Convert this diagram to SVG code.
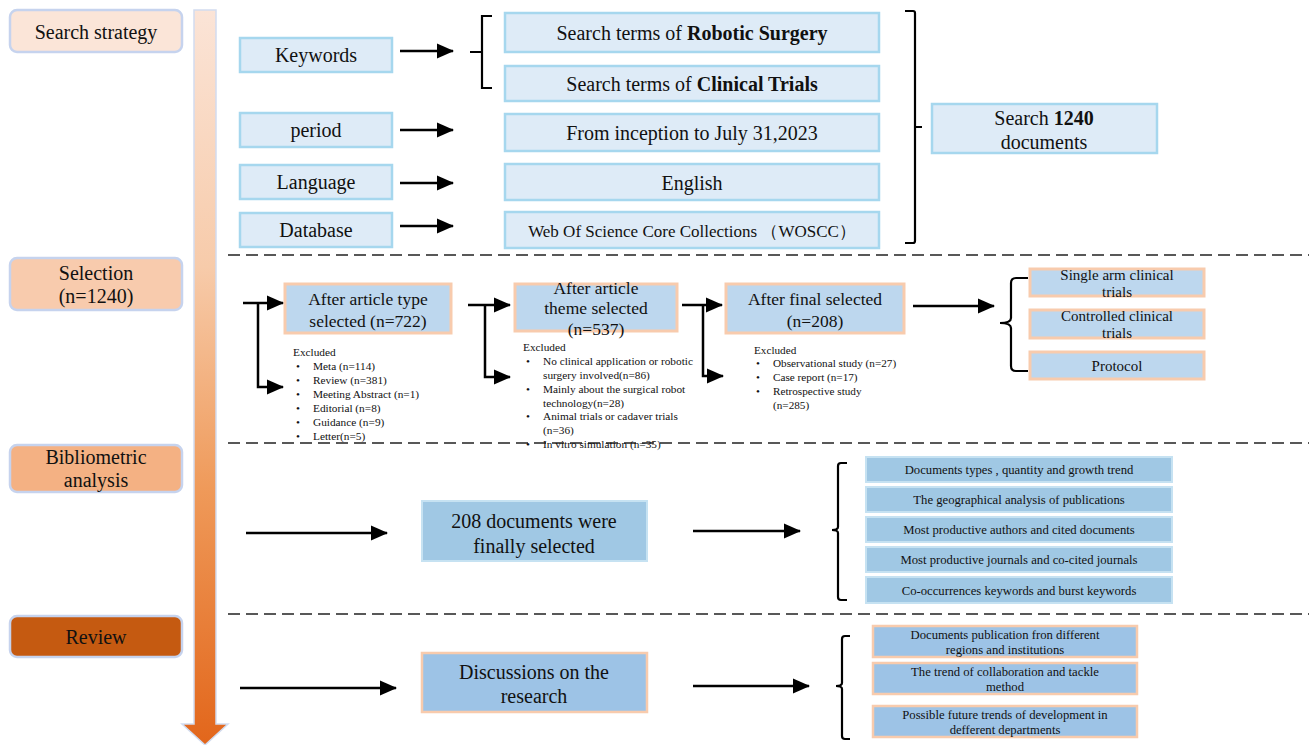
<svg xmlns="http://www.w3.org/2000/svg" width="1309" height="745" viewBox="0 0 1309 745" font-family="'Liberation Serif','Times New Roman',serif">
<defs>
<linearGradient id="shaft" x1="0" y1="0" x2="0" y2="1">
<stop offset="0" stop-color="#fbe4d7"/>
<stop offset="0.35" stop-color="#f7cbaa"/>
<stop offset="0.65" stop-color="#ef9a5a"/>
<stop offset="1" stop-color="#e2661b"/>
</linearGradient>
<marker id="ah" markerUnits="userSpaceOnUse" markerWidth="18" markerHeight="18" refX="16" refY="9" orient="auto">
<path d="M0,1.5 L17,9 L0,16.5 Z" fill="#000"/>
</marker>
<style>
text{font-family:"Liberation Serif","Times New Roman",serif;fill:#111;}
.stage{stroke:#c6d3ee;stroke-width:2.5;}
.b1{fill:#deebf7;stroke:#a6d7ee;stroke-width:2.5;}
.b2{fill:#bdd7ee;stroke:#f8cbad;stroke-width:3;}
.b3{fill:#a0c8e4;stroke:#c6e2f2;stroke-width:2;}
.b4{fill:#9dc3e6;stroke:#f8cbad;stroke-width:2.5;}
.ln{stroke:#000;stroke-width:2.5;fill:none;}
.ar{stroke:#000;stroke-width:2.5;fill:none;marker-end:url(#ah);}
.br{stroke:#000;stroke-width:2.2;fill:none;}
.dash{stroke:#222;stroke-width:1.6;stroke-dasharray:12,6;fill:none;}
.t20{font-size:20px;text-anchor:middle;}
.t17{font-size:17.5px;text-anchor:middle;}
.t15{font-size:15px;text-anchor:middle;}
.t13{font-size:12.7px;text-anchor:middle;}
.ex{font-size:11.3px;}
.ex3{font-size:11.2px;}
</style>
</defs>

<g id="timeline">
<path d="M194,10 L216,10 L216,724 L228,724 L205,745 L182,724 L194,724 Z" fill="url(#shaft)" stroke="#d2dcef" stroke-width="1.5"/>
</g>

<g id="dividers">
<line class="dash" x1="228" y1="255" x2="1309" y2="255"/>
<line class="dash" x1="228" y1="443" x2="1309" y2="443"/>
<line class="dash" x1="228" y1="614" x2="1309" y2="614"/>
</g>

<g id="stage-search">
<rect class="stage" x="10" y="10" width="172" height="42" rx="7" fill="#fbe5d8"/>
<text class="t20" x="96" y="39">Search strategy</text>
</g>
<g id="stage-selection">
<rect class="stage" x="10" y="258" width="172" height="52" rx="7" fill="#f8cbad"/>
<text class="t20" x="96" y="280">Selection</text>
<text class="t20" x="96" y="303">(n=1240)</text>
</g>
<g id="stage-bibliometric">
<rect class="stage" x="10" y="445" width="172" height="47" rx="7" fill="#f4b183"/>
<text class="t20" x="96" y="464">Bibliometric</text>
<text class="t20" x="96" y="487">analysis</text>
</g>
<g id="stage-review">
<rect class="stage" x="10" y="616" width="172" height="41" rx="7" fill="#c55a11"/>
<text class="t20" x="96" y="644">Review</text>
</g>

<g id="keywords"><rect class="b1" x="240" y="38" width="152" height="34"/><text class="t20" x="316" y="62">Keywords</text></g>
<g id="period"><rect class="b1" x="240" y="113" width="152" height="34"/><text class="t20" x="316" y="137">period</text></g>
<g id="language"><rect class="b1" x="240" y="165" width="152" height="34"/><text class="t20" x="316" y="189">Language</text></g>
<g id="database"><rect class="b1" x="240" y="213" width="152" height="34"/><text class="t20" x="316" y="237">Database</text></g>

<g id="robotic"><rect class="b1" x="505" y="13" width="374" height="39"/><text class="t20" x="692" y="40">Search terms of <tspan font-weight="bold">Robotic Surgery</tspan></text></g>
<g id="clinical"><rect class="b1" x="505" y="66" width="374" height="35"/><text class="t20" x="692" y="91">Search terms of <tspan font-weight="bold">Clinical Trials</tspan></text></g>
<g id="inception"><rect class="b1" x="505" y="114" width="374" height="37"/><text class="t20" x="692" y="140">From inception to July 31,2023</text></g>
<g id="english"><rect class="b1" x="505" y="164" width="374" height="36"/><text class="t20" x="692" y="190">English</text></g>
<g id="woscc"><rect class="b1" x="505" y="212" width="374" height="36"/><text x="692" y="237" style="font-size:17px;text-anchor:middle">Web Of Science Core Collections （WOSCC）</text></g>

<g id="search1240"><rect class="b1" x="932" y="104" width="225" height="49"/>
<text class="t20" x="1044" y="125">Search <tspan font-weight="bold">1240</tspan></text>
<text class="t20" x="1044" y="149">documents</text></g>

<g id="type-selected"><rect class="b2" x="285" y="284" width="166" height="49"/>
<text class="t17" x="368" y="305">After article type</text>
<text class="t17" x="368" y="327">selected (n=722)</text></g>
<g id="excluded1">
<text class="ex" x="293" y="356">Excluded</text>
<text class="ex" x="296" y="370">•</text><text class="ex" x="313" y="370">Meta (n=114)</text>
<text class="ex" x="296" y="384">•</text><text class="ex" x="313" y="384">Review (n=381)</text>
<text class="ex" x="296" y="398">•</text><text class="ex" x="313" y="398">Meeting Abstract (n=1)</text>
<text class="ex" x="296" y="412">•</text><text class="ex" x="313" y="412">Editorial (n=8)</text>
<text class="ex" x="296" y="426">•</text><text class="ex" x="313" y="426">Guidance (n=9)</text>
<text class="ex" x="296" y="440">•</text><text class="ex" x="313" y="440">Letter(n=5)</text>
</g>

<g id="theme-selected"><rect class="b2" x="515" y="284" width="162" height="47"/>
<text class="t17" x="596" y="294">After article</text>
<text class="t17" x="596" y="314">theme selected</text>
<text class="t17" x="596" y="335">(n=537)</text></g>
<g id="excluded2">
<text class="ex" x="523" y="351">Excluded</text>
<text class="ex" x="526" y="365">•</text><text class="ex" x="543" y="365">No clinical application or robotic</text>
<text class="ex" x="543" y="379">surgery involved(n=86)</text>
<text class="ex" x="526" y="393">•</text><text class="ex" x="543" y="393">Mainly about the surgical robot</text>
<text class="ex" x="543" y="407">technology(n=28)</text>
<text class="ex" x="526" y="420">•</text><text class="ex" x="543" y="420">Animal trials or cadaver trials</text>
<text class="ex" x="543" y="434">(n=36)</text>
<text class="ex" x="526" y="448">•</text><text class="ex" x="543" y="448">In vitro simulation  (n=35)</text>
</g>

<g id="final-selected"><rect class="b2" x="726" y="284" width="178" height="49"/>
<text class="t17" x="815" y="305">After final  selected</text>
<text class="t17" x="815" y="327">(n=208)</text></g>
<g id="excluded3">
<text class="ex3" x="754" y="354">Excluded</text>
<text class="ex3" x="756" y="367">•</text><text class="ex3" x="773" y="367">Observational study (n=27)</text>
<text class="ex3" x="756" y="381">•</text><text class="ex3" x="773" y="381">Case report (n=17)</text>
<text class="ex3" x="756" y="395">•</text><text class="ex3" x="773" y="395">Retrospective study</text>
<text class="ex3" x="773" y="409">(n=285)</text>
</g>

<g id="single-arm"><rect class="b2" x="1030" y="269" width="174" height="27"/>
<text class="t15" x="1117" y="280">Single arm clinical</text>
<text class="t15" x="1117" y="297">trials</text></g>
<g id="controlled"><rect class="b2" x="1030" y="310" width="174" height="28"/>
<text class="t15" x="1117" y="321">Controlled clinical</text>
<text class="t15" x="1117" y="338">trials</text></g>
<g id="protocol"><rect class="b2" x="1030" y="352" width="174" height="27"/>
<text class="t15" x="1117" y="371">Protocol</text></g>

<g id="finally-selected"><rect class="b3" x="422" y="501" width="225" height="60"/>
<text class="t20" x="534" y="528">208 documents were</text>
<text class="t20" x="534" y="553">finally selected</text></g>
<g id="bib1"><rect class="b3" x="866" y="457" width="306" height="25"/><text class="t13" x="1019" y="474">Documents types , quantity and growth trend</text></g>
<g id="bib2"><rect class="b3" x="866" y="487" width="306" height="25"/><text class="t13" x="1019" y="504">The geographical analysis of publications</text></g>
<g id="bib3"><rect class="b3" x="866" y="517" width="306" height="25"/><text class="t13" x="1019" y="534">Most productive authors and cited documents</text></g>
<g id="bib4"><rect class="b3" x="866" y="547" width="306" height="25"/><text class="t13" x="1019" y="564">Most productive journals and co-cited journals</text></g>
<g id="bib5"><rect class="b3" x="866" y="577" width="306" height="26"/><text class="t13" x="1019" y="595">Co-occurrences keywords and burst keywords</text></g>

<g id="discussions"><rect class="b4" x="422" y="653" width="225" height="59"/>
<text class="t20" x="534" y="679">Discussions on the</text>
<text class="t20" x="534" y="703">research</text></g>
<g id="rev1"><rect class="b4" x="873" y="626" width="264" height="31"/>
<text class="t13" x="1005" y="639">Documents publication fron different</text>
<text class="t13" x="1005" y="654">regions and institutions</text></g>
<g id="rev2"><rect class="b4" x="873" y="663" width="264" height="31"/>
<text class="t13" x="1005" y="676">The trend of collaboration and tackle</text>
<text class="t13" x="1005" y="691">method</text></g>
<g id="rev3"><rect class="b4" x="873" y="706" width="264" height="31"/>
<text class="t13" x="1005" y="719">Possible future trends of development in</text>
<text class="t13" x="1005" y="734">defferent departments</text></g>

<g id="connectors">
<line class="ar" x1="400" y1="51" x2="453" y2="51"/>
<line class="ar" x1="400" y1="130" x2="453" y2="130"/>
<line class="ar" x1="400" y1="183" x2="453" y2="183"/>
<line class="ar" x1="400" y1="226" x2="453" y2="226"/>
<path class="br" d="M492,16 L482,16 L482,88 L492,88 M482,52 L470,52"/>
<path class="br" d="M905,11 L913,11 Q915,11 915,13 L915,241 Q915,243 913,243 L905,243 M915,127 L922,127"/>
<line class="ar" x1="243" y1="303" x2="283" y2="303"/>
<polyline class="ar" points="258,303 258,387 283,387"/>
<line class="ar" x1="468" y1="305" x2="510" y2="305"/>
<polyline class="ar" points="485,305 485,377 510,377"/>
<line class="ar" x1="682" y1="305" x2="722" y2="305"/>
<polyline class="ar" points="703,305 703,376 723,376"/>
<line class="ar" x1="913" y1="306" x2="994" y2="306"/>
<path class="br" d="M1028,278 L1016,278 Q1011,278 1011,283 L1011,318 Q1011,323 1000,323 Q1011,323 1011,328 L1011,366 Q1011,371 1016,371 L1028,371"/>
<line class="ar" x1="246" y1="533" x2="387" y2="533"/>
<line class="ar" x1="693" y1="531" x2="800" y2="531"/>
<path class="br" d="M847,463 L841,463 Q838,463 838,466 L838,527 Q838,530 832,530 Q838,530 838,533 L838,597 Q838,600 841,600 L847,600"/>
<line class="ar" x1="240" y1="688" x2="396" y2="688"/>
<line class="ar" x1="693" y1="686" x2="809" y2="686"/>
<path class="br" d="M850,636 L845,636 Q842,636 842,639 L842,683 Q842,686 836,686 Q842,686 842,689 L842,736 Q842,739 845,739 L850,739"/>
</g>
</svg>
